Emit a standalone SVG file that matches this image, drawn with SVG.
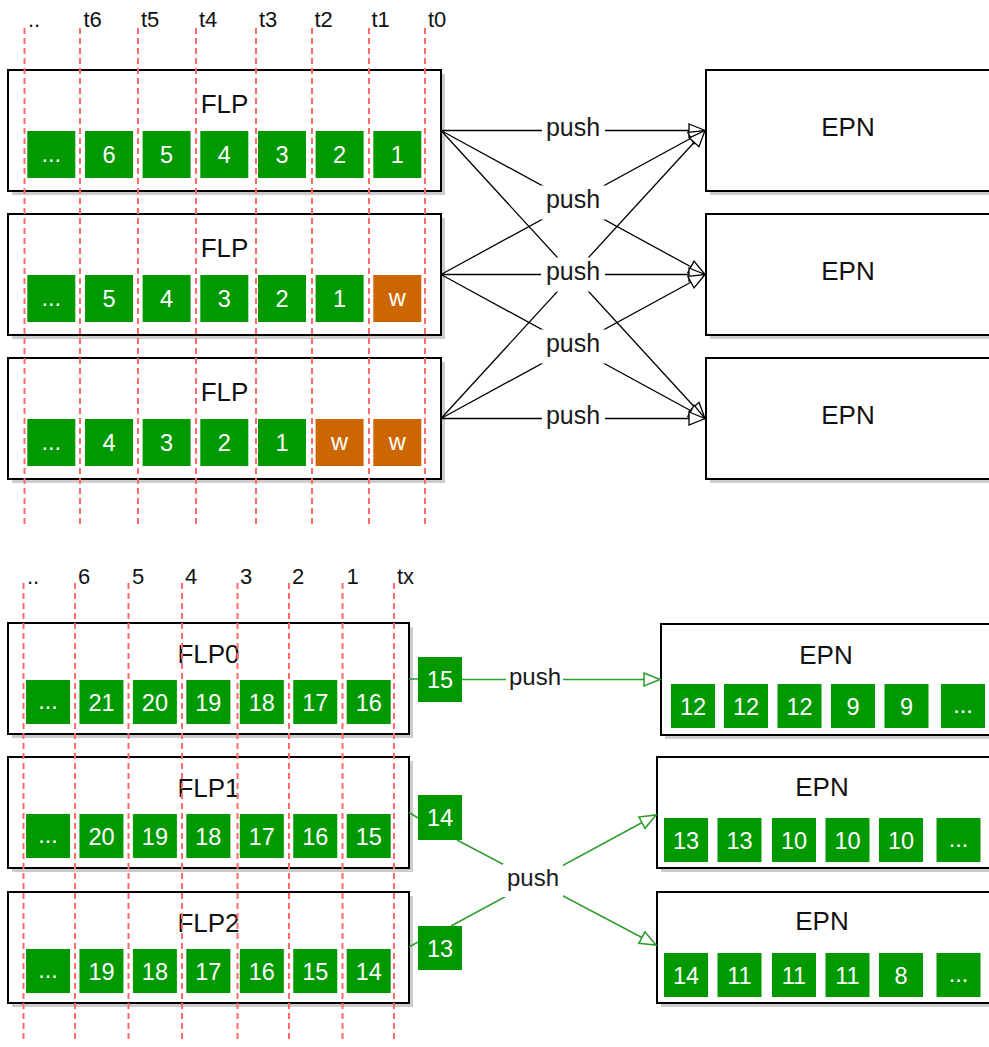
<svg xmlns="http://www.w3.org/2000/svg" width="989" height="1047" viewBox="0 0 989 1047">
<defs>
<style>
text{font-family:"Liberation Sans",Arial,Helvetica,sans-serif}
.box{fill:#fff;stroke:#000;stroke-width:2}
.sh{fill:#000;fill-opacity:0.2}
.g{fill:#009900}
.o{fill:#cc6600}
.st{font-size:23.5px;fill:#fff;text-anchor:middle}
.tl{font-size:26px;fill:#111;text-anchor:middle}
.lbl{font-size:22px;fill:#111}
.push{font-size:25px;fill:#1a1a1a;text-anchor:middle}
.pushg{font-size:24px;fill:#1a1a1a;text-anchor:middle}
.bg{fill:#fff}
.dash{stroke:#ff6b6b;stroke-width:2;stroke-dasharray:6 4;fill:none}
.e{stroke:#000;stroke-width:1.3;fill:none;marker-end:url(#ah)}
.eg{stroke:#2a9d2a;stroke-width:1.5;fill:none}
.ega{stroke:#2a9d2a;stroke-width:1.5;fill:none;marker-end:url(#ahg)}
</style>
<marker id="ah" markerUnits="userSpaceOnUse" markerWidth="20" markerHeight="17" viewBox="-2 -2 20 17" refX="16" refY="6.5" orient="auto"><path d="M0,0 L16,6.5 L0,13 Z" fill="#fff" stroke="#000" stroke-width="1.3"/></marker>
<marker id="ahg" markerUnits="userSpaceOnUse" markerWidth="20" markerHeight="17" viewBox="-2 -2 20 17" refX="16" refY="6.5" orient="auto"><path d="M0,0 L16,6.5 L0,13 Z" fill="#fff" stroke="#2a9d2a" stroke-width="1.5"/></marker>
</defs>
<rect width="989" height="1047" fill="#fff"/>

<!-- ===== TOP SECTION ===== -->
<g id="flp-top-1">
<rect class="sh" x="12" y="74" width="433" height="121"/>
<rect class="box" x="8" y="70" width="433" height="121"/>
<text class="tl" x="224.5" y="113">FLP</text>
<rect class="g" x="27.3" y="131" width="48" height="47"/><text class="st" x="51.3" y="162">...</text>
<rect class="g" x="85" y="131" width="48" height="47"/><text class="st" x="109" y="163">6</text>
<rect class="g" x="142.6" y="131" width="48" height="47"/><text class="st" x="166.6" y="163">5</text>
<rect class="g" x="200.3" y="131" width="48" height="47"/><text class="st" x="224.3" y="163">4</text>
<rect class="g" x="258" y="131" width="48" height="47"/><text class="st" x="282" y="163">3</text>
<rect class="g" x="315.6" y="131" width="48" height="47"/><text class="st" x="339.6" y="163">2</text>
<rect class="g" x="373.3" y="131" width="48" height="47"/><text class="st" x="397.3" y="163">1</text>
</g>
<g id="flp-top-2">
<rect class="sh" x="12" y="218" width="433" height="121"/>
<rect class="box" x="8" y="214" width="433" height="121"/>
<text class="tl" x="224.5" y="257">FLP</text>
<rect class="g" x="27.3" y="275" width="48" height="47"/><text class="st" x="51.3" y="306">...</text>
<rect class="g" x="85" y="275" width="48" height="47"/><text class="st" x="109" y="307">5</text>
<rect class="g" x="142.6" y="275" width="48" height="47"/><text class="st" x="166.6" y="307">4</text>
<rect class="g" x="200.3" y="275" width="48" height="47"/><text class="st" x="224.3" y="307">3</text>
<rect class="g" x="258" y="275" width="48" height="47"/><text class="st" x="282" y="307">2</text>
<rect class="g" x="315.6" y="275" width="48" height="47"/><text class="st" x="339.6" y="307">1</text>
<rect class="o" x="373.3" y="275" width="48" height="47"/><text class="st" x="397.3" y="306">w</text>
</g>
<g id="flp-top-3">
<rect class="sh" x="12" y="362" width="433" height="121"/>
<rect class="box" x="8" y="358" width="433" height="121"/>
<text class="tl" x="224.5" y="401">FLP</text>
<rect class="g" x="27.3" y="419" width="48" height="47"/><text class="st" x="51.3" y="450">...</text>
<rect class="g" x="85" y="419" width="48" height="47"/><text class="st" x="109" y="451">4</text>
<rect class="g" x="142.6" y="419" width="48" height="47"/><text class="st" x="166.6" y="451">3</text>
<rect class="g" x="200.3" y="419" width="48" height="47"/><text class="st" x="224.3" y="451">2</text>
<rect class="g" x="258" y="419" width="48" height="47"/><text class="st" x="282" y="451">1</text>
<rect class="o" x="315.6" y="419" width="48" height="47"/><text class="st" x="339.6" y="450">w</text>
<rect class="o" x="373.3" y="419" width="48" height="47"/><text class="st" x="397.3" y="450">w</text>
</g>

<g id="epn-top-1">
<rect class="sh" x="710" y="74" width="290" height="121"/>
<rect class="box" x="706" y="70" width="290" height="121"/>
<text class="tl" x="848" y="136">EPN</text>
</g>
<g id="epn-top-2">
<rect class="sh" x="710" y="218" width="290" height="121"/>
<rect class="box" x="706" y="214" width="290" height="121"/>
<text class="tl" x="848" y="280">EPN</text>
</g>
<g id="epn-top-3">
<rect class="sh" x="710" y="362" width="290" height="121"/>
<rect class="box" x="706" y="358" width="290" height="121"/>
<text class="tl" x="848" y="424">EPN</text>
</g>

<g id="connectors-top">
<line class="e" x1="441" y1="130.5" x2="705" y2="130.5"/>
<line class="e" x1="441" y1="130.5" x2="705" y2="274.5"/>
<line class="e" x1="441" y1="130.5" x2="705" y2="418.5"/>
<line class="e" x1="441" y1="274.5" x2="705" y2="130.5"/>
<line class="e" x1="441" y1="274.5" x2="705" y2="274.5"/>
<line class="e" x1="441" y1="274.5" x2="705" y2="418.5"/>
<line class="e" x1="441" y1="418.5" x2="705" y2="130.5"/>
<line class="e" x1="441" y1="418.5" x2="705" y2="274.5"/>
<line class="e" x1="441" y1="418.5" x2="705" y2="418.5"/>
<rect class="bg" x="542" y="114" width="63" height="34"/>
<rect class="bg" x="541" y="185.5" width="64" height="34"/>
<rect class="bg" x="541" y="257.5" width="64" height="34"/>
<rect class="bg" x="541" y="329.5" width="64" height="34"/>
<rect class="bg" x="542" y="401.5" width="63" height="34"/>
<text class="push" x="573" y="136">push</text>
<text class="push" x="573" y="208">push</text>
<text class="push" x="573" y="280">push</text>
<text class="push" x="573" y="352">push</text>
<text class="push" x="573" y="424">push</text>
</g>

<!-- ===== BOTTOM SECTION ===== -->
<g id="flp0">
<rect class="sh" x="12" y="627" width="401" height="111"/>
<rect class="box" x="8" y="623" width="401" height="111"/>
<text class="tl" x="208.5" y="663">FLP0</text>
<rect class="g" x="26" y="680" width="44" height="44"/><text class="st" x="48" y="709">...</text>
<rect class="g" x="79.45" y="680" width="44" height="44"/><text class="st" x="101.45" y="710.5">21</text>
<rect class="g" x="132.9" y="680" width="44" height="44"/><text class="st" x="154.9" y="710.5">20</text>
<rect class="g" x="186.35" y="680" width="44" height="44"/><text class="st" x="208.35" y="710.5">19</text>
<rect class="g" x="239.8" y="680" width="44" height="44"/><text class="st" x="261.8" y="710.5">18</text>
<rect class="g" x="293.25" y="680" width="44" height="44"/><text class="st" x="315.25" y="710.5">17</text>
<rect class="g" x="346.7" y="680" width="44" height="44"/><text class="st" x="368.7" y="710.5">16</text>
</g>
<g id="flp1">
<rect class="sh" x="12" y="761" width="401" height="111"/>
<rect class="box" x="8" y="757" width="401" height="111"/>
<text class="tl" x="208.5" y="797">FLP1</text>
<rect class="g" x="26" y="814" width="44" height="44"/><text class="st" x="48" y="843">...</text>
<rect class="g" x="79.45" y="814" width="44" height="44"/><text class="st" x="101.45" y="844.5">20</text>
<rect class="g" x="132.9" y="814" width="44" height="44"/><text class="st" x="154.9" y="844.5">19</text>
<rect class="g" x="186.35" y="814" width="44" height="44"/><text class="st" x="208.35" y="844.5">18</text>
<rect class="g" x="239.8" y="814" width="44" height="44"/><text class="st" x="261.8" y="844.5">17</text>
<rect class="g" x="293.25" y="814" width="44" height="44"/><text class="st" x="315.25" y="844.5">16</text>
<rect class="g" x="346.7" y="814" width="44" height="44"/><text class="st" x="368.7" y="844.5">15</text>
</g>
<g id="flp2">
<rect class="sh" x="12" y="896" width="401" height="111"/>
<rect class="box" x="8" y="892" width="401" height="111"/>
<text class="tl" x="208.5" y="932">FLP2</text>
<rect class="g" x="26" y="949" width="44" height="44"/><text class="st" x="48" y="978">...</text>
<rect class="g" x="79.45" y="949" width="44" height="44"/><text class="st" x="101.45" y="979.5">19</text>
<rect class="g" x="132.9" y="949" width="44" height="44"/><text class="st" x="154.9" y="979.5">18</text>
<rect class="g" x="186.35" y="949" width="44" height="44"/><text class="st" x="208.35" y="979.5">17</text>
<rect class="g" x="239.8" y="949" width="44" height="44"/><text class="st" x="261.8" y="979.5">16</text>
<rect class="g" x="293.25" y="949" width="44" height="44"/><text class="st" x="315.25" y="979.5">15</text>
<rect class="g" x="346.7" y="949" width="44" height="44"/><text class="st" x="368.7" y="979.5">14</text>
</g>

<g id="pkt-15"><rect class="g" x="418" y="657" width="44" height="45"/><text class="st" x="440" y="688">15</text></g>
<g id="pkt-14"><rect class="g" x="418" y="795" width="44" height="45"/><text class="st" x="440" y="826">14</text></g>
<g id="pkt-13"><rect class="g" x="418" y="926" width="44" height="44"/><text class="st" x="440" y="956.5">13</text></g>

<g id="epn-b1">
<rect class="sh" x="665" y="628" width="340" height="111"/>
<rect class="box" x="661" y="624" width="340" height="111"/>
<text class="tl" x="826" y="664">EPN</text>
<rect class="g" x="671" y="684" width="44" height="44"/><text class="st" x="693" y="714.5">12</text>
<rect class="g" x="724" y="684" width="44" height="44"/><text class="st" x="746" y="714.5">12</text>
<rect class="g" x="777.5" y="684" width="44" height="44"/><text class="st" x="799.5" y="714.5">12</text>
<rect class="g" x="831" y="684" width="44" height="44"/><text class="st" x="853" y="714.5">9</text>
<rect class="g" x="884.5" y="684" width="44" height="44"/><text class="st" x="906.5" y="714.5">9</text>
<rect class="g" x="941" y="684" width="44" height="44"/><text class="st" x="963" y="713">...</text>
</g>
<g id="epn-b2">
<rect class="sh" x="661" y="761" width="340" height="111"/>
<rect class="box" x="657" y="757" width="340" height="111"/>
<text class="tl" x="822" y="796">EPN</text>
<rect class="g" x="664" y="818" width="44" height="44"/><text class="st" x="686" y="848.5">13</text>
<rect class="g" x="717.5" y="818" width="44" height="44"/><text class="st" x="739.5" y="848.5">13</text>
<rect class="g" x="772" y="818" width="44" height="44"/><text class="st" x="794" y="848.5">10</text>
<rect class="g" x="825.5" y="818" width="44" height="44"/><text class="st" x="847.5" y="848.5">10</text>
<rect class="g" x="879" y="818" width="44" height="44"/><text class="st" x="901" y="848.5">10</text>
<rect class="g" x="936.5" y="818" width="44" height="44"/><text class="st" x="958.5" y="847">...</text>
</g>
<g id="epn-b3">
<rect class="sh" x="661" y="896" width="340" height="111"/>
<rect class="box" x="657" y="892" width="340" height="111"/>
<text class="tl" x="822" y="930">EPN</text>
<rect class="g" x="664" y="953" width="44" height="44"/><text class="st" x="686" y="983.5">14</text>
<rect class="g" x="717.5" y="953" width="44" height="44"/><text class="st" x="739.5" y="983.5">11</text>
<rect class="g" x="772" y="953" width="44" height="44"/><text class="st" x="794" y="983.5">11</text>
<rect class="g" x="825.5" y="953" width="44" height="44"/><text class="st" x="847.5" y="983.5">11</text>
<rect class="g" x="879" y="953" width="44" height="44"/><text class="st" x="901" y="983.5">8</text>
<rect class="g" x="936.5" y="953" width="44" height="44"/><text class="st" x="958.5" y="982">...</text>
</g>

<g id="connectors-bottom">
<line class="eg" x1="409" y1="679" x2="418" y2="679"/>
<line class="eg" x1="409" y1="812.5" x2="418" y2="818"/>
<line class="eg" x1="409" y1="947" x2="418" y2="942"/>
<line class="ega" x1="462" y1="679.5" x2="660" y2="679.5"/>
<line class="ega" x1="451" y1="926" x2="656" y2="815"/>
<line class="ega" x1="457" y1="840" x2="656" y2="945"/>
<rect class="bg" x="506" y="666" width="57" height="28"/>
<rect class="bg" x="503" y="864" width="60" height="33"/>
<text class="pushg" x="535" y="685">push</text>
<text class="pushg" x="533" y="886">push</text>
</g>

<!-- ===== time grid ===== -->
<g id="grid-top">
<line class="dash" x1="24.5" y1="28" x2="24.5" y2="527"/>
<line class="dash" x1="80" y1="28" x2="80" y2="527"/>
<line class="dash" x1="138" y1="28" x2="138" y2="527"/>
<line class="dash" x1="196" y1="28" x2="196" y2="527"/>
<line class="dash" x1="256" y1="28" x2="256" y2="527"/>
<line class="dash" x1="312" y1="28" x2="312" y2="527"/>
<line class="dash" x1="369" y1="28" x2="369" y2="527"/>
<line class="dash" x1="425" y1="28" x2="425" y2="527"/>
<text class="lbl" x="28" y="27">..</text>
<text class="lbl" x="83.5" y="27">t6</text>
<text class="lbl" x="141" y="27">t5</text>
<text class="lbl" x="199" y="27">t4</text>
<text class="lbl" x="259" y="27">t3</text>
<text class="lbl" x="314.5" y="27">t2</text>
<text class="lbl" x="371.5" y="27">t1</text>
<text class="lbl" x="428" y="27">t0</text>
</g>
<g id="grid-bottom">
<line class="dash" x1="23.5" y1="583" x2="23.5" y2="1043"/>
<line class="dash" x1="75" y1="583" x2="75" y2="1043"/>
<line class="dash" x1="128.5" y1="583" x2="128.5" y2="1043"/>
<line class="dash" x1="182" y1="583" x2="182" y2="1043"/>
<line class="dash" x1="237.5" y1="583" x2="237.5" y2="1043"/>
<line class="dash" x1="289" y1="583" x2="289" y2="1043"/>
<line class="dash" x1="342.5" y1="583" x2="342.5" y2="1043"/>
<line class="dash" x1="394" y1="583" x2="394" y2="1043"/>
<text class="lbl" x="27" y="584">..</text>
<text class="lbl" x="78" y="584">6</text>
<text class="lbl" x="132" y="584">5</text>
<text class="lbl" x="185" y="584">4</text>
<text class="lbl" x="240" y="584">3</text>
<text class="lbl" x="292" y="584">2</text>
<text class="lbl" x="346.5" y="584">1</text>
<text class="lbl" x="397" y="584">tx</text>
</g>
</svg>
